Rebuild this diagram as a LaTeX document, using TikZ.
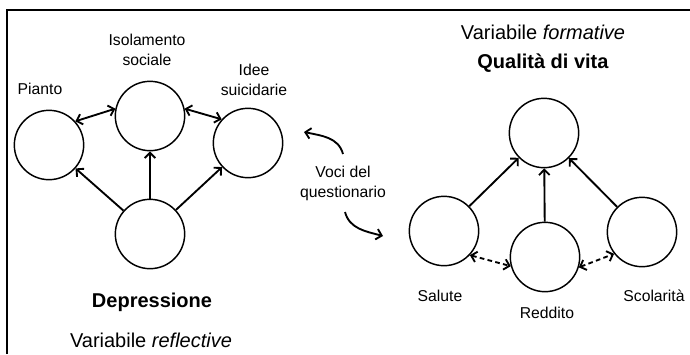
\documentclass[tikz,border=0pt]{standalone}
\usepackage{fontspec}
\setmainfont{Liberation Sans}
\usetikzlibrary{arrows.meta}

\begin{document}
\begin{tikzpicture}[x=0.75pt,y=0.75pt,yscale=-1,xscale=1,
  latent/.style={draw,circle,line width=1.1pt,minimum size=52pt,inner sep=0pt},
  itemtxt/.style={inner sep=0.75pt,align=center,font=\fontsize{11.8}{15}\selectfont},
  headtxt/.style={inner sep=0.75pt,font=\fontsize{15}{18}\selectfont},
  link/.style={line width=1.4pt,-{Straight Barb[length=4pt,width=8pt]}},
  twoway/.style={line width=1.4pt,{Straight Barb[length=4pt,width=8pt]}-{Straight Barb[length=4pt,width=8pt]}}]
\useasboundingbox (0,0) rectangle (690,354);

%Frame
\draw [line width=0.8pt] (7,354) -- (7,10) -- (690,10) ;

%Circles reflective
\node [latent] (pianto) at (49,145) {};
\node [latent] (isol) at (150,116) {};
\node [latent] (idee) at (248,143) {};
\node [latent] (depr) at (150,234) {};
%Circles formative
\node [latent] (qual) at (544,133) {};
\node [latent] (salute) at (444,231) {};
\node [latent] (reddito) at (545,257) {};
\node [latent] (scol) at (642,232) {};

%Straight Lines
\draw [link] (depr) -- (pianto) ;
\draw [link] (depr) -- (isol) ;
\draw [link] (depr) -- (idee) ;
\draw [twoway] (pianto.42) -- (isol.168) ;
\draw [twoway] (isol.12) -- (idee.138) ;
\draw [link] (salute) -- (qual) ;
\draw [link] (reddito) -- (qual) ;
\draw [link] (scol) -- (qual) ;
\draw [twoway,dash pattern=on 3.5pt off 2.5pt] (salute.-43) -- (reddito.195) ;
\draw [twoway,dash pattern=on 3.5pt off 2.5pt] (reddito.-17) -- (scol.218) ;

% Text Node
\node [itemtxt] (tpianto) at (40,89) {Pianto};
% Text Node
\node [itemtxt] (tisol) at (147,50) {Isolamento\\sociale};
% Text Node
\node [itemtxt] (tidee) at (254,80) {Idee\\suicidarie};
% Text Node
\node [headtxt] (tdepr) at (152,302) {\textbf{Depressione}};
% Text Node
\node [headtxt] (trefl) at (151,340) {Variabile \textit{reflective}};
% Text Node
\node [headtxt] (tform) at (543,32) {Variabile \textit{formative}};
% Text Node
\node [headtxt] (tqual) at (543,63) {\textbf{Qualità di vita}};
% Text Node
\node [itemtxt] (tsal) at (440,296) {Salute};
% Text Node
\node [itemtxt] (tred) at (547,313) {Reddito};
% Text Node
\node [itemtxt] (tscol) at (654,296) {Scolarità};
% Text Node
\node [itemtxt] (voci) at (343,183) {Voci del\\questionario};

%Curve Lines
\coordinate (vocisu) at (343,154);
\coordinate (vocisutip) at (304,132);
\coordinate (vocigiu) at (345,212);
\coordinate (vocigiutip) at (383,236);
\draw [link] (vocisu) to[out=-105,in=12] (vocisutip) ;
\draw [link] (vocigiu) to[out=75,in=-165] (vocigiutip) ;

\end{tikzpicture}
\end{document}
